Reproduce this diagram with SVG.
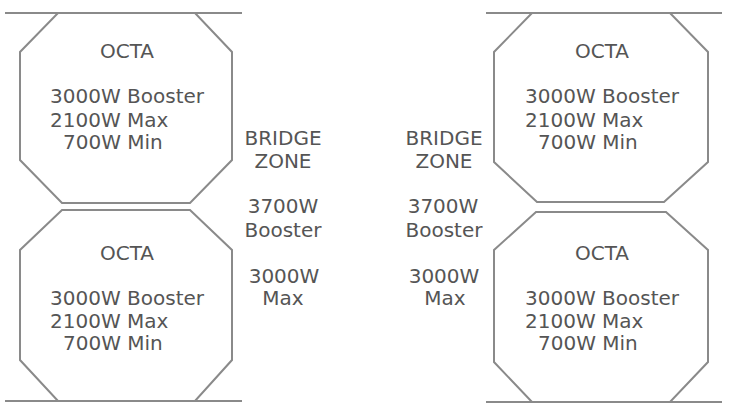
<svg xmlns="http://www.w3.org/2000/svg" width="729" height="410" viewBox="0 0 729 410">
<style>
.edge{fill:none;stroke:#8a8a8a;stroke-width:2}
.oct{fill:#fff;stroke:#8a8a8a;stroke-width:2}
text{font-family:"DejaVu Sans",Verdana,sans-serif;font-size:20px;fill:#555}
.c{text-anchor:middle}
</style>
<rect width="729" height="410" fill="#fff"/>
<g id="connectors">
<line class="edge" x1="5" y1="13" x2="242" y2="13"/>
<line class="edge" x1="5" y1="401" x2="242" y2="401"/>
<line class="edge" x1="486" y1="13" x2="722" y2="13"/>
<line class="edge" x1="486" y1="402" x2="722" y2="402"/>
</g>
<g id="octa-top-left">
<polygon class="oct" points="58,13 195,13 232,52 232,160 190,203 62,203 20,160 20,52"/>
<text class="c" x="127" y="58">OCTA</text>
<text x="50" y="103">3000W Booster</text>
<text x="50" y="127">2100W Max</text>
<text x="63" y="149">700W Min</text>
</g>
<g id="octa-bottom-left">
<polygon class="oct" points="62,210 190,210 232,250 232,360 195,401 58,401 20,360 20,250"/>
<text class="c" x="127" y="260">OCTA</text>
<text x="50" y="305">3000W Booster</text>
<text x="50" y="328">2100W Max</text>
<text x="63" y="350">700W Min</text>
</g>
<g id="octa-top-right">
<polygon class="oct" points="532,13 670,13 708,52 708,162 664,202 537,202 494,162 494,52"/>
<text class="c" x="602" y="58">OCTA</text>
<text x="525" y="103">3000W Booster</text>
<text x="525" y="127">2100W Max</text>
<text x="538" y="149">700W Min</text>
</g>
<g id="octa-bottom-right">
<polygon class="oct" points="536,212 666,212 708,250 708,362 670,402 532,402 494,362 494,250"/>
<text class="c" x="602" y="260">OCTA</text>
<text x="525" y="305">3000W Booster</text>
<text x="525" y="328">2100W Max</text>
<text x="538" y="350">700W Min</text>
</g>
<g id="bridge-left">
<text class="c" x="283" y="145">BRIDGE</text>
<text class="c" x="283" y="168">ZONE</text>
<text class="c" x="283" y="213">3700W</text>
<text class="c" x="283" y="237">Booster</text>
<text class="c" x="284" y="283">3000W</text>
<text class="c" x="283" y="305">Max</text>
</g>
<g id="bridge-right">
<text class="c" x="444" y="145">BRIDGE</text>
<text class="c" x="444" y="168">ZONE</text>
<text class="c" x="443" y="213">3700W</text>
<text class="c" x="444" y="237">Booster</text>
<text class="c" x="444" y="283">3000W</text>
<text class="c" x="445" y="305">Max</text>
</g>
</svg>
